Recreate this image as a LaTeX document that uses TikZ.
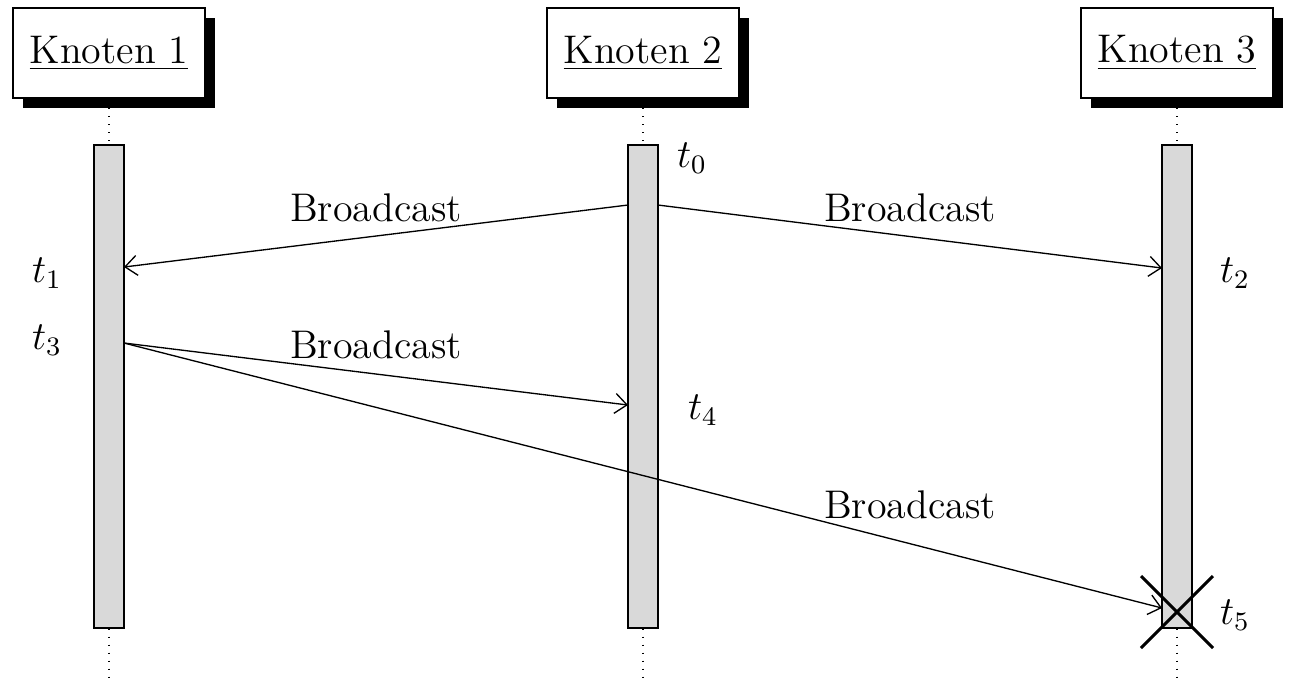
\documentclass[tikz,border=0pt]{standalone}
\usetikzlibrary{shadows,arrows.meta}
\begin{document}
\begin{tikzpicture}[x=0.3pt,y=-0.3pt,
  every node/.style={font=\fontsize{12}{14.4}\selectfont},
  objbox/.style={draw, fill=white, minimum width=57.6pt, minimum height=27pt, inner sep=0pt,
    drop shadow={fill=black, opacity=1, shadow xshift=3pt, shadow yshift=-3pt}},
  bar/.style={draw, fill=black!15, minimum width=9pt, minimum height=144.9pt, inner sep=0pt},
  life/.style={dotted},
  msg/.style={-{Straight Barb[length=3.6pt,width=6pt]}},
  lbl/.style={inner sep=0pt}]
\useasboundingbox (0,0) rectangle (1293,684);
% lifelines
\foreach \i/\x in {1/109, 2/643, 3/1177} {
  \coordinate (top\i) at (\x,108);
  \coordinate (bot\i) at (\x,680);
}
\node[bar] (b1) at (109,386.5) {};
\node[bar] (b2) at (643,386.5) {};
\node[bar] (b3) at (1177,386.5) {};
\draw[life] (top1) -- (b1.north);
\draw[life] (top2) -- (b2.north);
\draw[life] (top3) -- (b3.north);
\draw[life] (b1.south) -- (bot1);
\draw[life] (b2.south) -- (bot2);
\draw[life] (b3.south) -- (bot3);
\node[objbox] (k1) at (109,53) {\underline{Knoten 1}};
\node[objbox] (k2) at (643,53) {\underline{Knoten 2}};
\node[objbox] (k3) at (1177,53) {\underline{Knoten 3}};
% message endpoints
\coordinate (m1s) at (628,205);
\coordinate (m1e) at (124,267);
\coordinate (m2s) at (658,205);
\coordinate (m2e) at (1162,268);
\coordinate (m3s) at (124,343);
\coordinate (m3e) at (628,405);
\coordinate (m4e) at (1162,608);
\draw[msg] (m1s) -- (m1e);
\draw[msg] (m2s) -- (m2e);
\draw[msg] (m3s) -- (m3e);
\draw[msg] (m3s) -- (m4e);
\node[lbl] (l1) at (376,208) {Broadcast};
\node[lbl] (l2) at (910,208) {Broadcast};
\node[lbl] (l3) at (376,345) {Broadcast};
\node[lbl] (l4) at (910,505) {Broadcast};
% times
\node[lbl] (t0) at (692,158) {$t_0$};
\node[lbl] (t1) at (47,273) {$t_1$};
\node[lbl] (t2) at (1235,273) {$t_2$};
\node[lbl] (t3) at (47,340) {$t_3$};
\node[lbl] (t4) at (703,410) {$t_4$};
\node[lbl] (t5) at (1235,615) {$t_5$};
% destruction
\coordinate (x0) at (1177,612);
\draw[line width=0.9pt] ([shift={(-36,-36)}]x0) -- ([shift={(36,36)}]x0);
\draw[line width=0.9pt] ([shift={(-36,36)}]x0) -- ([shift={(36,-36)}]x0);
\end{tikzpicture}
\end{document}
